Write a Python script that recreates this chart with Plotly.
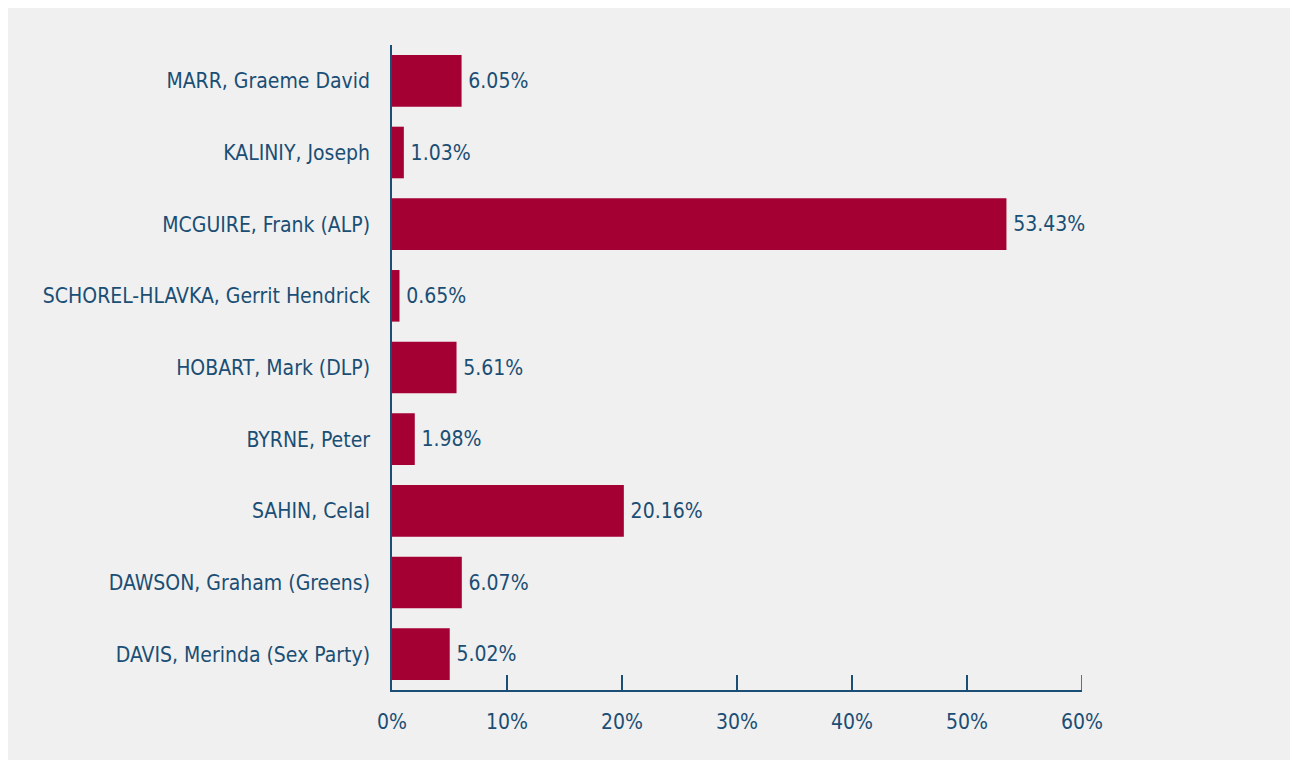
import plotly.graph_objects as go

candidates = [
    "MARR, Graeme David",
    "KALINIY, Joseph",
    "MCGUIRE, Frank (ALP)",
    "SCHOREL-HLAVKA, Gerrit Hendrick",
    "HOBART, Mark (DLP)",
    "BYRNE, Peter",
    "SAHIN, Celal",
    "DAWSON, Graham (Greens)",
    "DAVIS, Merinda (Sex Party)",
]
vote_share = [6.05, 1.03, 53.43, 0.65, 5.61, 1.98, 20.16, 6.07, 5.02]
x_ticks = [0, 10, 20, 30, 40, 50, 60]
x_tick_labels = ["0%", "10%", "20%", "30%", "40%", "50%", "60%"]

BAR = "#a50034"
INK = "#1a4e74"
BG = "#f0f0f0"
FONT = "DejaVu Sans Condensed, Open Sans, sans-serif"
SIZE = 21
PLOT_H = 645

fig = go.Figure(
    go.Bar(
        x=vote_share,
        y=candidates,
        orientation="h",
        marker=dict(color=BAR, line=dict(width=0)),
        text=[f"\u2009{v:.2f}%" for v in vote_share],
        textposition="outside",
        textfont=dict(color=INK, size=SIZE, family=FONT),
        cliponaxis=False,
        width=0.72,
    )
)

# grey panel behind everything
fig.add_shape(
    type="rect", xref="paper", yref="paper",
    x0=-0.558, x1=1.31, y0=-0.1085, y1=1.0605,
    fillcolor=BG, line=dict(width=0), layer="below",
)

# plotly drops the inside tick at the axis end, so draw it
fig.add_shape(
    type="line", xref="x", yref="paper",
    x0=x_ticks[-1], x1=x_ticks[-1], y0=0, y1=15 / PLOT_H,
    line=dict(color=INK, width=1.5),
)

fig.update_layout(
    width=1298,
    height=765,
    margin=dict(l=384, r=224, t=37, b=83),
    paper_bgcolor="white",
    plot_bgcolor=BG,
    font=dict(family=FONT, color=INK, size=SIZE),
    showlegend=False,
    xaxis=dict(
        range=[0, 60],
        tickvals=x_ticks,
        ticktext=x_tick_labels,
        ticks="inside",
        ticklen=15,
        tickwidth=1.5,
        tickcolor=INK,
        showline=True,
        linecolor=INK,
        linewidth=1.5,
        showgrid=False,
        zeroline=False,
        ticklabelstandoff=12,
        tickfont=dict(size=SIZE),
    ),
    yaxis=dict(
        autorange="reversed",
        showline=True,
        linecolor=INK,
        linewidth=1.5,
        showgrid=False,
        zeroline=False,
        ticks="",
        ticklabelstandoff=16,
        tickfont=dict(size=SIZE),
    ),
)

fig.write_html("out.html")
